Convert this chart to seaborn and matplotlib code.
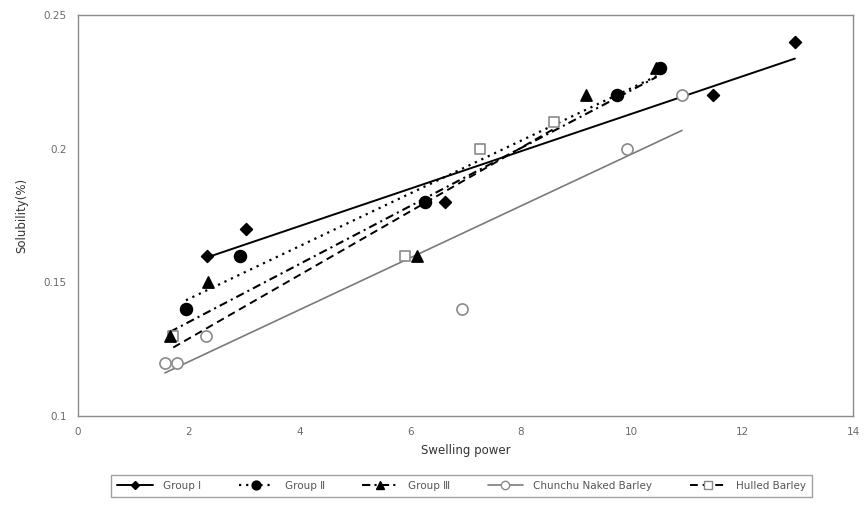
import matplotlib
matplotlib.use("Agg")
import matplotlib.pyplot as plt
from matplotlib.lines import Line2D
import pandas as pd
import seaborn as sns

# Swelling power (x) vs solubility (y) for each sample group
g1_x = [2.33, 3.03, 6.63, 11.47, 12.95]
g1_y = [0.16, 0.17, 0.18, 0.22, 0.24]

g2_x = [1.95, 2.93, 6.27, 9.74, 10.51]
g2_y = [0.14, 0.16, 0.18, 0.22, 0.23]

g3_x = [1.66, 2.35, 6.12, 9.18, 10.45]
g3_y = [0.13, 0.15, 0.16, 0.22, 0.23]

chunchu_x = [1.57, 1.79, 2.31, 6.94, 9.92, 10.91]
chunchu_y = [0.12, 0.12, 0.13, 0.14, 0.20, 0.22]

hulled_x = [1.72, 5.91, 7.26, 8.60]
hulled_y = [0.13, 0.16, 0.20, 0.21]

series_names = ["Group \u2160", "Group \u2161", "Group \u2162",
                "Chunchu Naked Barley", "Hulled Barley"]

x_ticks = [0, 2, 4, 6, 8, 10, 12, 14]
y_ticks = [0.1, 0.15, 0.2, 0.25]
y_tick_labels = ["0.1", "0.15", "0.2", "0.25"]

sns.set_style("white")
plt.rcParams["font.family"] = ["DejaVu Sans", "Noto Sans CJK KR"]

fig = plt.figure(figsize=(8.67, 5.05), dpi=100)
ax = fig.add_axes([78 / 867, 1 - 416 / 505, (853 - 78) / 867, (416 - 15) / 505])

GRAY = "#8a8a8a"

styles = [
    dict(marker="D", ms=6.0, face="black", edge="black", ls="-", lc="black", lw=1.4, z=5),
    dict(marker="o", ms=8.5, face="black", edge="black", ls=(0, (1, 2.2)), lc="black", lw=1.6, z=5),
    dict(marker="^", ms=8.0, face="black", edge="black", ls=(0, (4, 2, 1, 2)), lc="black", lw=1.5, z=5),
    dict(marker="o", ms=8.0, face="white", edge=GRAY, ls="-", lc="#7a7a7a", lw=1.2, z=4),
    dict(marker="s", ms=7.8, face="white", edge=GRAY, ls=(0, (4, 2.5)), lc="black", lw=1.4, z=4),
]

data = [(g1_x, g1_y), (g2_x, g2_y), (g3_x, g3_y), (chunchu_x, chunchu_y), (hulled_x, hulled_y)]

for (xs, ys), st in zip(data, styles):
    df = pd.DataFrame({"x": xs, "y": ys})
    sns.regplot(
        data=df, x="x", y="y", ax=ax, ci=None, truncate=True,
        marker=st["marker"],
        scatter_kws=dict(s=st["ms"] ** 2, facecolors=st["face"], edgecolors=st["edge"],
                         linewidths=1.2, alpha=1, zorder=st["z"]),
        line_kws=dict(color=st["lc"], linestyle=st["ls"], linewidth=st["lw"], zorder=3),
    )

ax.set_xlim(0, 14)
ax.set_ylim(0.1, 0.25)
ax.set_xticks(x_ticks)
ax.set_xticklabels([str(t) for t in x_ticks])
ax.set_yticks(y_ticks)
ax.set_yticklabels(y_tick_labels)
ax.tick_params(direction="in", length=3, width=0.8, color=GRAY,
               labelsize=7.5, labelcolor="#6a6a6a", pad=8)
for sp in ax.spines.values():
    sp.set_visible(True)
    sp.set_color(GRAY)
    sp.set_linewidth(1.0)

ax.set_xlabel("Swelling power", fontsize=8.5, color="#333333", labelpad=5)
ax.set_ylabel("Solubility(%)", fontsize=8.5, color="#333333", labelpad=11)

handles = []
for st in styles:
    handles.append(Line2D([0], [0], color=st["lc"], linestyle=st["ls"], linewidth=st["lw"],
                          marker=st["marker"], markersize=st["ms"] * 0.75,
                          markerfacecolor=st["face"], markeredgecolor=st["edge"]))

leg = fig.legend(handles, series_names, loc="center",
                 bbox_to_anchor=((113 + 810) / 2 / 867, 1 - 486 / 505),
                 ncol=5, frameon=True, fancybox=False, fontsize=7.5,
                 handlelength=3.4, columnspacing=3.6, handletextpad=1.0,
                 borderpad=0.6, labelcolor="#555555")
leg.get_frame().set_edgecolor(GRAY)
leg.get_frame().set_linewidth(1.0)

fig.savefig("out.png", dpi=100)
